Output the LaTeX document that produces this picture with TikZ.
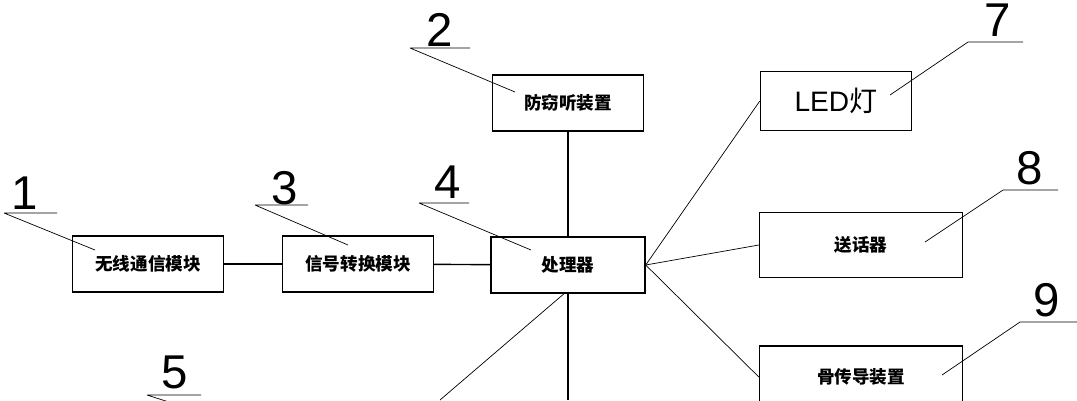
\documentclass[tikz,border=0pt]{standalone}
\usepackage{fontspec}
\setmainfont{Liberation Sans}
\newfontfamily\cjk{Noto Sans CJK SC}
\usetikzlibrary{positioning}
\tikzset{
  part/.style={draw,thick,minimum width=3.02cm,minimum height=1.12cm,inner sep=0pt,font=\cjk\bfseries\fontsize{10}{10}\selectfont},
  tag/.style={font=\fontsize{27}{27}\selectfont,inner sep=0pt},
  lead/.style={thin}
}
\begin{document}
\begin{tikzpicture}[x=0.02cm,y=-0.02cm]
        % Fix page size
        \useasboundingbox (0,0) rectangle (1077,400);
        % Draw the blocks
        \node[part] (radio) at (148,264) {无线通信模块};
        \node[part] (conv) at (358,264) {信号转换模块};
        \node[part,minimum width=3.08cm] (cpu) at (568,265) {处理器};
        \node[part] (guard) at (568,103) {防窃听装置};
        \node[part,minimum height=1.18cm,font=\cjk\fontsize{16}{16}\selectfont] (led) at (836,101) {\fontspec{Liberation Sans}LED\cjk 灯};
        \node[part,minimum width=4.06cm,minimum height=1.3cm] (mic) at (861,245) {送话器};
        \node[part,minimum width=4.06cm,minimum height=1.24cm] (bone) at (861,377) {骨传导装置};
        % Draw connections
        \draw[thick] (radio) -- (conv);
        \draw[thick] (conv) -- (cpu);
        \draw[thick] (guard) -- (cpu);
        \draw (cpu.east) -- (led.west);
        \draw (cpu.east) -- (mic.west);
        \draw (cpu.east) -- (bone.west);
        \coordinate (down) at (568,400);
        \coordinate (diag) at (440,400);
        \draw[thick] (cpu.south) -- (down);
        \draw ([xshift=-0.08cm]cpu.south) -- (diag);
        % Draw number tags with leaders
        \foreach \n/\tx/\ty/\ax/\bx/\ly/\px/\py in {
            1/25/193/4/57/213/95/250,
            2/440/30/410/470/48/515/92,
            3/285/188/255/308/205/348/245,
            4/448/182/419/469/203/531/250,
            5/175/372/147/201/395/225/420,
            7/998/20/968/1023/42/890/95,
            8/1030/168/1003/1058/190/925/242,
            9/1047/300/1020/1077/322/942/375}{
          \node[tag] (n\n) at (\tx,\ty) {\n};
          \draw[lead] (\bx,\ly) -- (\ax,\ly) (\ax,\ly) -- (\px,\py);
        }
\end{tikzpicture}
\end{document}
